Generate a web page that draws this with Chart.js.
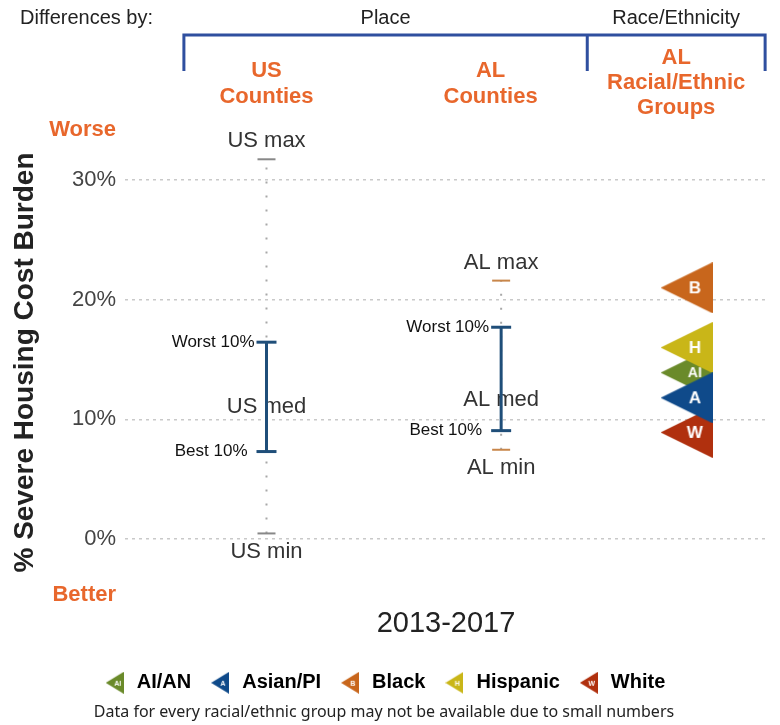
<!DOCTYPE html>
<html>
<head>
<meta charset="utf-8">
<script src="https://cdn.jsdelivr.net/npm/chart.js@4.4.1/dist/chart.umd.min.js"></script>
<style>
  body { margin: 0; background: #fff; }
</style>
</head>
<body>
<canvas id="chart" width="780" height="725"></canvas>
<script>
// Severe housing cost burden (%), 2013-2017
// order of stats: min, best 10%, median, worst 10%, max
const usValues = [0.45, 7.3, 11.05, 16.45, 31.75];
const alValues = [7.45, 9.05, 11.6, 17.7, 21.6];

const groupNames = ['AI/AN', 'Asian/PI', 'Black', 'Hispanic', 'White'];
const groupLetters = ['AI', 'A', 'B', 'H', 'W'];
const groupValues = [13.9, 11.8, 21.0, 16.0, 8.9];
const groupColors = ['#6a8a2a', '#0f4a8a', '#c8661c', '#c9b618', '#b0300e'];
const drawOrder = [0, 4, 3, 1, 2]; // AI/AN sits under Hispanic and Asian/PI

const yTicks = [0, 10, 20, 30];
const columnX = [1, 2, 2.79]; // US counties, AL counties, AL groups

const ORANGE = '#e8672c';
const FONT = '"Liberation Sans", Arial, sans-serif';

// is this a real % tick (not the Worse/Better words)?
function isNumTick(c) {
    return !c.tick || yTicks.includes(c.tick.value);
}

// triangle markers pointing left, with a white letter
function makeTriangle(color, letter, w, h, size) {
    const c = document.createElement('canvas');
    c.width = w;
    c.height = h;
    const g = c.getContext('2d');
    g.fillStyle = color;
    g.beginPath();
    g.moveTo(0, h / 2);
    g.lineTo(w, 0);
    g.lineTo(w, h);
    g.closePath();
    g.fill();
    g.fillStyle = '#fff';
    g.font = 'bold ' + size + 'px ' + FONT;
    g.textAlign = 'center';
    g.textBaseline = 'middle';
    g.fillText(letter, w * 0.66, h / 2 + 1);
    return c;
}

const bigIcons = groupNames.map((n, i) =>
    makeTriangle(groupColors[i], groupLetters[i], 52, 51, groupLetters[i].length > 1 ? 14 : 17));
const smallIcons = groupNames.map((n, i) =>
    makeTriangle(groupColors[i], groupLetters[i], 18, 22, 7));

// header: "Differences by", brackets, column titles
const headerPlugin = {
    id: 'header',
    afterDraw(chart) {
        const { ctx, scales: { x } } = chart;
        const bl = x.getPixelForValue(0.648);
        const bm = x.getPixelForValue(2.367);
        const br = x.getPixelForValue(3.125);
        ctx.save();
        ctx.fillStyle = '#222';
        ctx.font = '20px ' + FONT;
        ctx.textBaseline = 'middle';
        ctx.textAlign = 'left';
        ctx.fillText('Differences by:', 20, 18);
        ctx.textAlign = 'center';
        ctx.fillText('Place', (bl + bm) / 2, 18);
        ctx.fillText('Race/Ethnicity', (bm + br) / 2, 18);

        ctx.strokeStyle = '#2f4f9f';
        ctx.lineWidth = 3;
        ctx.beginPath();
        ctx.moveTo(bl, 71);
        ctx.lineTo(bl, 35);
        ctx.lineTo(br, 35);
        ctx.lineTo(br, 71);
        ctx.moveTo(bm, 35);
        ctx.lineTo(bm, 71);
        ctx.stroke();

        ctx.fillStyle = ORANGE;
        ctx.font = 'bold 22px ' + FONT;
        const us = x.getPixelForValue(columnX[0]);
        const al = x.getPixelForValue(1.955);
        const gr = x.getPixelForValue(2.746);
        ctx.fillText('US', us, 71);
        ctx.fillText('Counties', us, 97);
        ctx.fillText('AL', al, 71);
        ctx.fillText('Counties', al, 97);
        ctx.fillText('AL', gr, 58);
        ctx.fillText('Racial/Ethnic', gr, 83);
        ctx.fillText('Groups', gr, 108);
        ctx.restore();
    }
};

// max / min / median / 10% labels next to the range bars
const rangeLabels = {
    id: 'rangeLabels',
    beforeDatasetsDraw(chart) {
        const { ctx, scales: { x, y } } = chart;
        [[usValues, 'US', columnX[0]], [alValues, 'AL', columnX[1]]].forEach(([vals, name, cx]) => {
            const px = x.getPixelForValue(cx);
            ctx.save();
            ctx.fillStyle = '#333';
            ctx.font = '22px ' + FONT;
            ctx.textAlign = 'center';
            ctx.textBaseline = 'middle';
            ctx.fillText(name + ' max', px, y.getPixelForValue(vals[4]) - 18);
            ctx.fillText(name + ' min', px, y.getPixelForValue(vals[0]) + 18);
            ctx.fillText(name + ' med', px, y.getPixelForValue(vals[2]));
            ctx.fillStyle = '#111';
            ctx.font = '17px ' + FONT;
            ctx.textAlign = 'right';
            ctx.fillText('Worst 10%', px - 12, y.getPixelForValue(vals[3]));
            ctx.fillText('Best 10%', px - 19, y.getPixelForValue(vals[1]));
            ctx.restore();
        });
    }
};

function rangeLine(cx, vals, tickColor) {
    return {
        type: 'line',
        order: 2,
        data: [{ x: cx, y: vals[0] }, { x: cx, y: vals[4] }],
        borderColor: '#a8a8a8',
        borderWidth: 2,
        borderDash: [2, 12],
        pointStyle: 'line',
        pointRadius: 9,
        pointBorderColor: tickColor,
        pointBorderWidth: 2
    };
}

function decileBar(cx, vals) {
    return {
        type: 'line',
        order: 1,
        data: [{ x: cx, y: vals[1] }, { x: cx, y: vals[3] }],
        borderColor: '#1f4e79',
        borderWidth: 3,
        pointStyle: 'line',
        pointRadius: 10,
        pointBorderColor: '#1f4e79',
        pointBorderWidth: 3
    };
}

const ctx = document.getElementById('chart').getContext('2d');
new Chart(ctx, {
    type: 'scatter',
    data: {
        datasets: [
            rangeLine(columnX[0], usValues, '#888'),
            rangeLine(columnX[1], alValues, '#c8864a'),
            decileBar(columnX[0], usValues),
            decileBar(columnX[1], alValues),
            {
                // image markers keep their own size; small radius keeps the plot edge free
                type: 'scatter',
                order: 0,
                data: drawOrder.map(i => ({ x: columnX[2], y: groupValues[i] })),
                pointStyle: drawOrder.map(i => bigIcons[i]),
                pointRadius: 2
            }
        ]
    },
    options: {
        responsive: false,
        animation: false,
        layout: { padding: { top: 130, right: 12, left: 0, bottom: 0 } },
        scales: {
            x: {
                type: 'linear',
                min: 0.397,
                max: 3.133,
                grid: { display: false },
                border: { display: false },
                ticks: { display: false },
                title: {
                    display: true,
                    text: '2013-2017',
                    color: '#222',
                    font: { family: FONT, size: 29 },
                    padding: { top: 4, bottom: 14 }
                }
            },
            y: {
                min: -4.7,
                max: 34.2,
                afterBuildTicks: scale => {
                    scale.ticks = [scale.min, ...yTicks, scale.max].map(v => ({ value: v }));
                },
                afterFit: scale => { scale.width = 125; },
                grid: {
                    drawTicks: false,
                    lineWidth: 1.5,
                    color: c => (isNumTick(c) ? '#c9c9c9' : 'rgba(0,0,0,0)')
                },
                border: { display: false, dash: [3, 4] },
                ticks: {
                    padding: 9,
                    color: c => (isNumTick(c) ? '#444' : ORANGE),
                    font: c => (isNumTick(c)
                        ? { family: FONT, size: 22 }
                        : { family: FONT, size: 22, weight: 'bold' }),
                    callback: v => {
                        if (v < 0) return 'Better';
                        if (v > 30) return 'Worse';
                        return v + '%';
                    }
                },
                title: {
                    display: true,
                    text: '% Severe Housing Cost Burden',
                    color: '#222',
                    font: { family: FONT, size: 28, weight: 'bold' },
                    padding: { top: 8, bottom: 0 }
                }
            }
        },
        plugins: {
            tooltip: { enabled: false },
            legend: {
                position: 'bottom',
                onClick: null,
                labels: {
                    usePointStyle: true,
                    pointStyleWidth: 24,
                    padding: 17,
                    color: '#222',
                    font: { family: FONT, size: 20, weight: 'bold' },
                    generateLabels: () => groupNames.map((n, i) => ({
                        text: n,
                        pointStyle: smallIcons[i],
                        fillStyle: groupColors[i],
                        strokeStyle: groupColors[i],
                        lineWidth: 0,
                        hidden: false,
                        datasetIndex: 4
                    }))
                }
            },
            subtitle: {
                display: true,
                position: 'bottom',
                text: 'Data for every racial/ethnic group may not be available due to small numbers',
                color: '#222',
                font: { family: '"Noto Sans", sans-serif', size: 16 },
                padding: { top: 0, bottom: 3 }
            }
        }
    },
    plugins: [headerPlugin, rangeLabels]
});
</script>
</body>
</html>
